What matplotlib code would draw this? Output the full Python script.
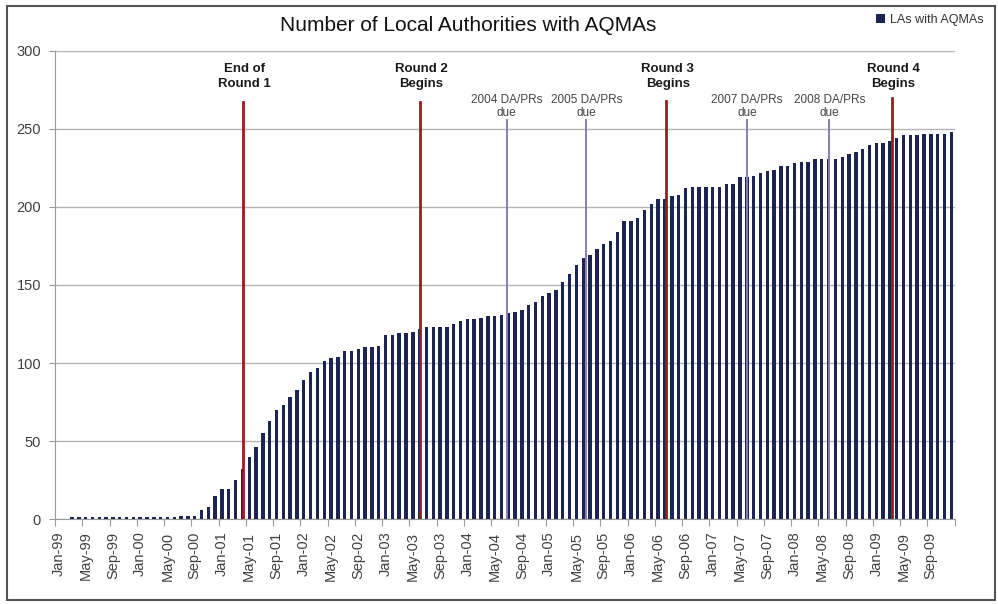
import matplotlib.pyplot as plt
from matplotlib.patches import Rectangle
import numpy as np

plt.rcParams['font.family'] = ['Liberation Sans', 'DejaVu Sans']

# monthly counts, Jan-99 .. Dec-09
years = ['99', '00', '01', '02', '03', '04', '05', '06', '07', '08', '09']
months = ['Jan', 'Feb', 'Mar', 'Apr', 'May', 'Jun', 'Jul', 'Aug', 'Sep', 'Oct', 'Nov', 'Dec']
labels = [m + '-' + y for y in years for m in months]

counts = [0, 0] + [1] * 16 + [2, 2, 2,
          6, 8, 15, 19, 19, 25, 32, 40, 46, 55, 63, 70, 73, 78, 83, 89, 94, 97,
          101, 103, 104, 108, 108, 109, 110, 110, 111, 118, 118, 119, 119, 120,
          122, 123, 123, 123, 123, 125, 127, 128, 128, 129, 130, 130, 131, 132,
          133, 134, 137, 139, 143, 145, 147, 152, 157, 163, 167, 169, 173, 176,
          178, 184, 191, 191, 193, 198, 202, 205, 205, 207, 208, 212, 213, 213,
          213, 213, 213, 215, 215, 219, 219, 220, 222, 223, 224, 226, 226, 228,
          229, 229, 231, 231, 231, 231, 232, 234, 235, 237, 240, 241, 241, 242,
          244, 246, 246, 246, 247, 247, 247, 247, 248]

# milestone markers (position in months from Jan-99)
round_text = ['End of\nRound 1', 'Round 2\nBegins', 'Round 3\nBegins', 'Round 4\nBegins']
round_pos = [27.05, 53.05, 89.2, 122.25]
round_top = [267, 267, 268, 270]
due_text = ['2004 DA/PRs\ndue', '2005 DA/PRs\ndue', '2007 DA/PRs\ndue', '2008 DA/PRs\ndue']
due_pos = [65.75, 77.45, 101.05, 113.1]
due_top = [256, 256, 256, 256]

fig = plt.figure(figsize=(9.98, 6.04), dpi=100)
ax = fig.add_axes([0.0551, 0.1407, 0.9015, 0.7749])

x = np.arange(len(counts))
ax.bar(x, counts, width=0.5, color='#1c2452', zorder=2, label='LAs with AQMAs')

for p, t, top in zip(round_pos, round_text, round_top):
    ax.plot([p, p], [0, top], color='#9e1a1f', lw=2, zorder=3)
    ax.text(p + 0.2, 283.5, t, ha='center', va='center', fontsize=9.5,
            fontweight='bold', color='#1a1a1a', linespacing=1.3)
for p, t, top in zip(due_pos, due_text, due_top):
    ax.plot([p, p], [0, top], color='#8a7db5', lw=1.4, zorder=3)
    ax.text(p, 264.5, t, ha='center', va='center', fontsize=8.5,
            color='#444444', linespacing=1.15)

ax.set_xlim(-0.5, len(counts) - 0.5)
ax.set_ylim(0, 300)
ax.set_yticks(range(0, 301, 50))
ax.yaxis.grid(True, color='#b4b4b4', lw=1, zorder=0)
ax.tick_params(axis='y', length=4, color='#999999', labelsize=10.5, labelcolor='#404040', pad=6)

ax.set_xticks(np.arange(-0.5, len(counts), 4))
ax.set_xticklabels([])
ax.set_xticks(x[::4], minor=True)
ax.set_xticklabels(labels[::4], minor=True, rotation=90, fontsize=10.5, color='#404040')
ax.tick_params(axis='x', which='major', length=5, color='#999999')
ax.tick_params(axis='x', which='minor', length=0, pad=9)

for s in ['top', 'right']:
    ax.spines[s].set_visible(False)
ax.spines['left'].set_color('#999999')
ax.spines['bottom'].set_color('#999999')

fig.text(0.469, 0.957, 'Number of Local Authorities with AQMAs', ha='center', va='center',
         fontsize=15, color='#111111')
fig.legend(loc='center right', bbox_to_anchor=(0.997, 0.967), frameon=False, fontsize=9,
           handlelength=0.7, handleheight=0.7, handletextpad=0.4, labelcolor='#333333')

fig.patches.append(Rectangle((0.007, 0.006), 0.99, 0.984, transform=fig.transFigure,
                             fill=False, edgecolor='#555555', lw=1.5))

fig.savefig('out.png', dpi=100)
